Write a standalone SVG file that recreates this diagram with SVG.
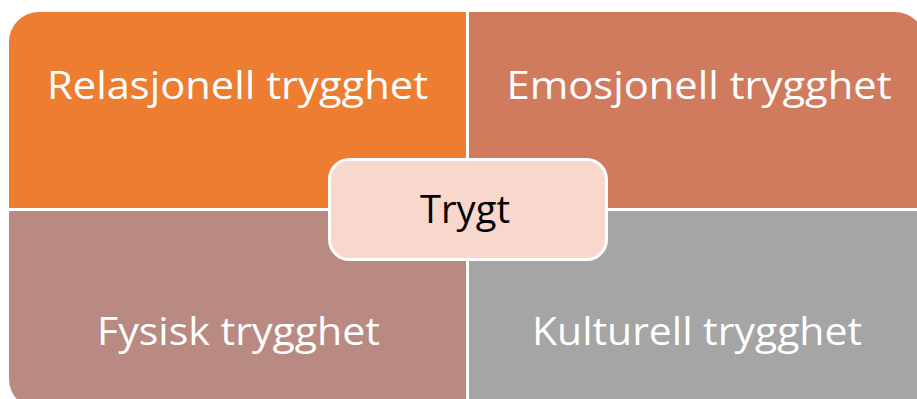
<svg xmlns="http://www.w3.org/2000/svg" width="917" height="399" viewBox="0 0 917 399">
<style>
.lbl{font-family:"Open Sans","Liberation Sans",sans-serif;font-size:38px;fill:#ffffff;text-anchor:middle}
.ctr{font-family:"Open Sans","Liberation Sans",sans-serif;font-size:39px;fill:#000000;text-anchor:middle}
</style>
<rect width="917" height="399" fill="#ffffff"/>
<g id="relasjonell">
<path d="M9,208 V42 A30,30 0 0 1 39,12 H466 V208 Z" fill="#ED7D31"/>
<text class="lbl" x="237.5" y="99" textLength="381" lengthAdjust="spacingAndGlyphs">Relasjonell trygghet</text>
</g>
<g id="emosjonell">
<path d="M469,12 H895 A30,30 0 0 1 925,42 V208 H469 Z" fill="#D17B5E"/>
<text class="lbl" x="699" y="99" textLength="385" lengthAdjust="spacingAndGlyphs">Emosjonell trygghet</text>
</g>
<g id="fysisk">
<path d="M9,211 H466 V409 H39 A30,30 0 0 1 9,379 Z" fill="#B98A82"/>
<text class="lbl" x="238.5" y="345" textLength="283" lengthAdjust="spacingAndGlyphs">Fysisk trygghet</text>
</g>
<g id="kulturell">
<path d="M469,211 H925 V409 H469 Z" fill="#A5A5A5"/>
<text class="lbl" x="697" y="345" textLength="330" lengthAdjust="spacingAndGlyphs">Kulturell trygghet</text>
</g>
<g id="trygt">
<rect x="329.5" y="159.5" width="277" height="100" rx="20" ry="20" fill="#F8D7CC" stroke="#ffffff" stroke-width="3"/>
<text class="ctr" x="465" y="223" textLength="90" lengthAdjust="spacingAndGlyphs">Trygt</text>
</g>
</svg>
